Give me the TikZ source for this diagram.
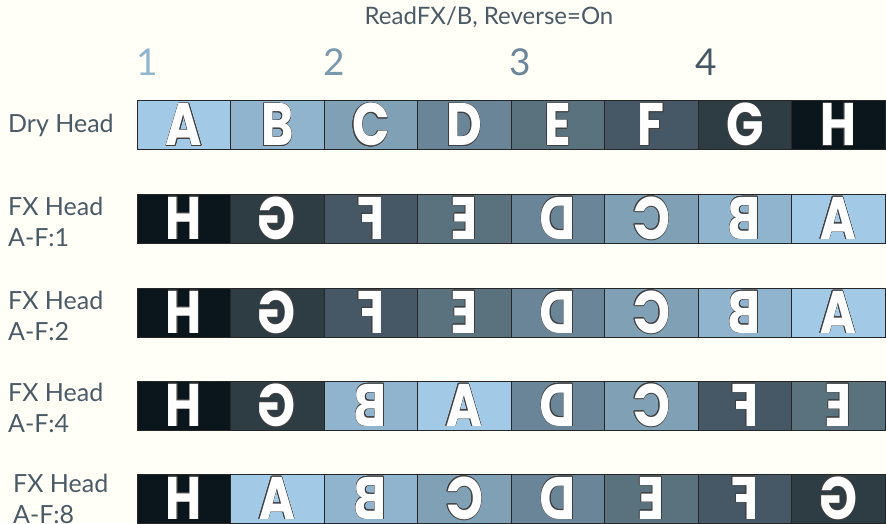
\documentclass[tikz,border=0pt]{standalone}
\usepackage{fontspec}
\setmainfont{Lato}
\newfontfamily\letterfont{Poppins}
\usepackage{contour}
\contourlength{0.7pt}
\usetikzlibrary{positioning}
\definecolor{bgcream}{RGB}{255,254,247}
\definecolor{inkgray}{RGB}{74,90,102}
\definecolor{cA}{RGB}{162,202,230}
\definecolor{cB}{RGB}{144,180,206}
\definecolor{cC}{RGB}{127,160,181}
\definecolor{cD}{RGB}{106,133,152}
\definecolor{cE}{RGB}{90,113,126}
\definecolor{cF}{RGB}{70,88,101}
\definecolor{cG}{RGB}{46,60,68}
\definecolor{cH}{RGB}{11,22,28}
\newcommand{\fwdletter}[1]{\scalebox{0.82}[1]{\contour{black!75}{#1}}}
\newcommand{\revletter}[1]{\scalebox{-0.82}[1]{\contour{black!75}{#1}}}

\begin{document}
\begin{tikzpicture}[x=1pt,y=-1pt,
  cell/.style={draw=black!85,line width=0.8pt,minimum width=93.5pt,minimum height=49pt,
    inner sep=0pt,text=white,font=\letterfont\bfseries\fontsize{60}{60}\selectfont},
  rowlabel/.style={anchor=west,align=left,inner sep=0pt,text=inkgray,font=\fontsize{25}{31}\selectfont},
  beat/.style={font=\fontsize{37}{37}\selectfont}]
\fill[bgcream] (0,0) rectangle (886,523);
\useasboundingbox (0,0) rectangle (886,523);

\node[text=inkgray,font=\fontsize{24}{24}\selectfont] (title) at (489,17) {ReadFX/B, Reverse=On};
\node[beat,text=cA!90!black] (beat-1) at (147,62) {1};
\node[beat,text=cB!85!black] (beat-2) at (334,62) {2};
\node[beat,text=cD] (beat-3) at (520,62) {3};
\node[beat,text=cF] (beat-4) at (706,62) {4};

% dry head
\node[rowlabel] (lbl-dry) at (8,125) {Dry Head};
\foreach \L [count=\i from 0] in {A,B,C,D,E,F,G,H}
  \node[cell,fill=c\L] (dry-\i) at (183.75+93.5*\i,125) {\raisebox{-2pt}{\fwdletter{\L}}};

% fx head, A-F:1
\node[rowlabel] (lbl-fx1) at (8,222) {FX Head\\A-F:1};
\foreach \L [count=\i from 0] in {H,G,F,E,D,C,B,A}
  \node[cell,fill=c\L] (fx1-\i) at (183.75+93.5*\i,218.5) {\raisebox{-2pt}{\revletter{\L}}};

% fx head, A-F:2
\node[rowlabel] (lbl-fx2) at (8,316) {FX Head\\A-F:2};
\foreach \L [count=\i from 0] in {H,G,F,E,D,C,B,A}
  \node[cell,fill=c\L] (fx2-\i) at (183.75+93.5*\i,312.5) {\raisebox{-2pt}{\revletter{\L}}};

% fx head, A-F:4
\node[rowlabel] (lbl-fx4) at (8,408) {FX Head\\A-F:4};
\foreach \L [count=\i from 0] in {H,G,B,A,D,C,F,E}
  \node[cell,fill=c\L] (fx4-\i) at (183.75+93.5*\i,405.5) {\raisebox{-2pt}{\revletter{\L}}};

% fx head, A-F:8
\node[rowlabel] (lbl-fx8) at (13,499) {FX Head\\A-F:8};
\foreach \L [count=\i from 0] in {H,A,B,C,D,E,F,G}
  \node[cell,fill=c\L] (fx8-\i) at (183.75+93.5*\i,498.5) {\raisebox{-2pt}{\revletter{\L}}};
\end{tikzpicture}
\end{document}
